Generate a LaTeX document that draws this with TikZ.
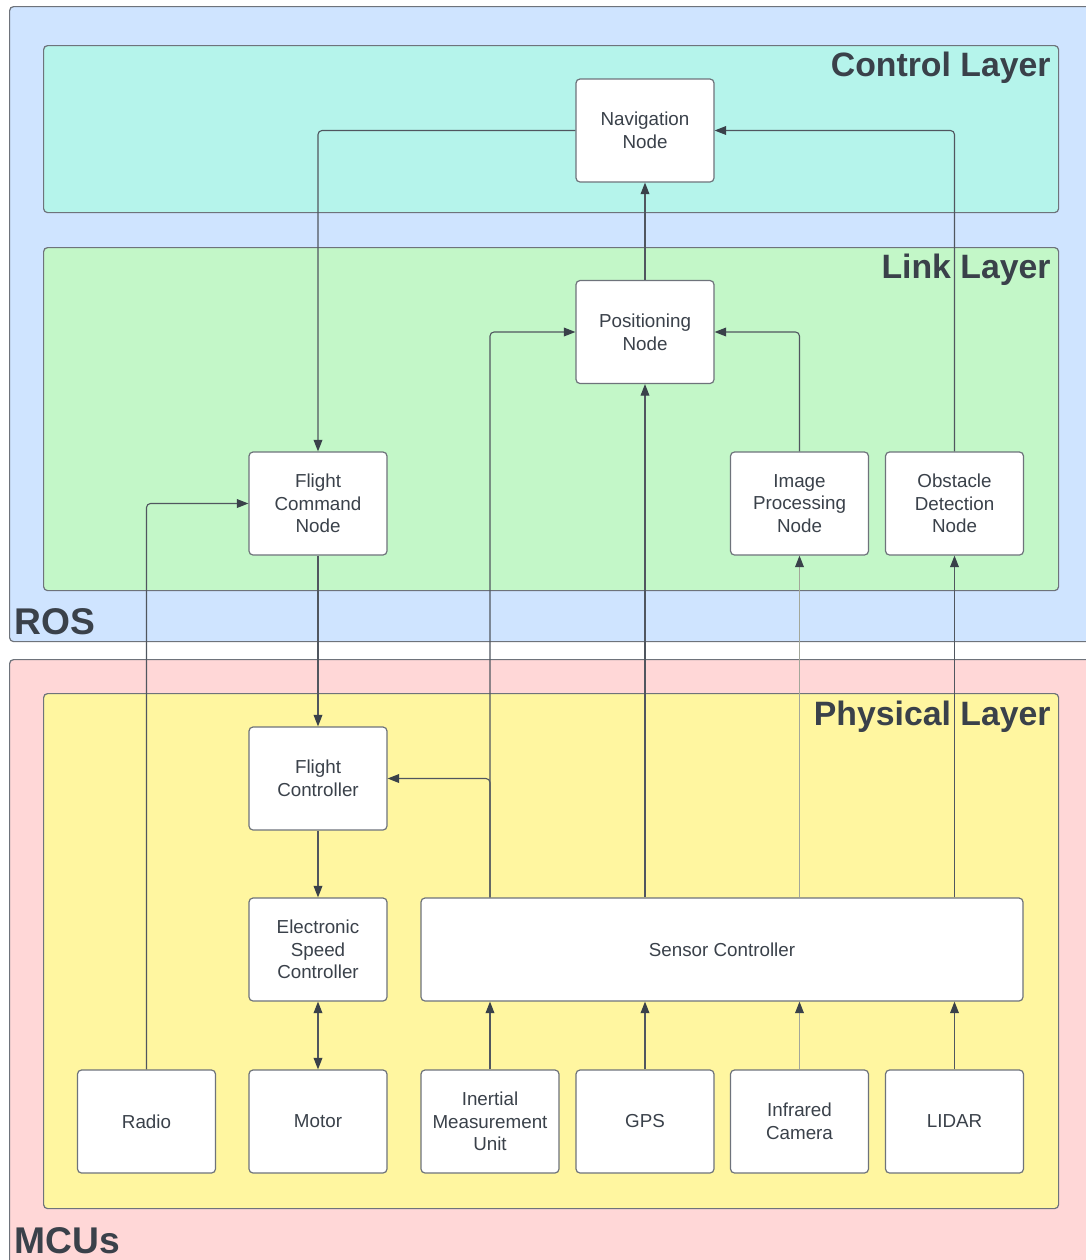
\documentclass[tikz,border=0pt]{standalone}
\usepackage{fontspec}
\setmainfont{Liberation Sans}
\usetikzlibrary{arrows.meta,positioning,calc}
\definecolor{RosBlue}{HTML}{CFE4FF}
\definecolor{CtrlTeal}{HTML}{B5F4EB}
\definecolor{LinkGreen}{HTML}{C3F7C8}
\definecolor{McuPink}{HTML}{FFD7D7}
\definecolor{PhysYellow}{HTML}{FFF6A0}
\definecolor{InkGrey}{HTML}{3A414A}
\definecolor{EdgeGrey}{HTML}{6E737B}
\definecolor{WireGrey}{HTML}{50565F}
\definecolor{PaleWire}{HTML}{A3A79A}

\tikzset{
  group/.style={draw=EdgeGrey,line width=0.6pt,rounded corners=2pt,
    inner sep=0pt,anchor=north west},
  block/.style={draw=EdgeGrey,fill=white,line width=0.6pt,rounded corners=2pt,
    minimum width=69pt,minimum height=51.5pt,inner sep=0pt,align=center,
    text=InkGrey,font=\fontsize{9.4}{11.3}\selectfont},
  layertitle/.style={text=InkGrey,inner sep=0pt,anchor=base east,
    font=\fontsize{16.9}{20}\selectfont\bfseries},
  domaintitle/.style={text=InkGrey,inner sep=0pt,anchor=base west,
    font=\fontsize{18.6}{20}\selectfont\bfseries},
  tip/.style={Triangle[length=5.8pt,width=4.4pt,color=InkGrey]},
  conn/.style={draw=WireGrey,line width=0.55pt,rounded corners=2pt,-{Triangle[length=5.8pt,width=4.4pt,color=InkGrey]}},
}

\begin{document}
\begin{tikzpicture}[x=0.5pt,y=-0.5pt]
  \useasboundingbox (0,0) rectangle (1086,1260);

  % domains and layers
  \node[group,fill=RosBlue,minimum width=546pt,minimum height=317.5pt] (ros) at (9,6) {};
  \node[group,fill=McuPink,minimum width=546pt,minimum height=310pt] (mcu) at (9,659) {};
  \node[group,fill=CtrlTeal,minimum width=507.5pt,minimum height=83.5pt] (ctrl) at (43,45) {};
  \node[group,fill=LinkGreen,minimum width=507.5pt,minimum height=171.5pt] (link) at (43,247) {};
  \node[group,fill=PhysYellow,minimum width=507.5pt,minimum height=257.5pt] (phys) at (43,693) {};

  \node[domaintitle] (rostitle) at (14,634) {ROS};
  \node[domaintitle] (mcutitle) at (14,1253) {MCUs};
  \node[layertitle] (ctrltitle) at (1051,76) {Control Layer};
  \node[layertitle] (linktitle) at (1051,278) {Link Layer};
  \node[layertitle] (phystitle) at (1051,725) {Physical Layer};

  % ROS nodes
  \node[block] (nav) at (645,130.5) {Navigation\\Node};
  \node[block] (pos) at (645,332) {Positioning\\Node};
  \node[block] (fcn) at (318,503.5) {Flight\\Command\\Node};
  \node[block] (img) at (799.5,503.5) {Image\\Processing\\Node};
  \node[block] (obs) at (954.5,503.5) {Obstacle\\Detection\\Node};

  % MCU nodes
  \node[block] (fc) at (318,778.5) {Flight\\Controller};
  \node[block] (esc) at (318,949.5) {Electronic\\Speed\\Controller};
  \node[block,minimum width=301pt] (sc) at (722,949.5) {Sensor Controller};
  \node[block] (radio) at (146.5,1121.5) {Radio};
  \node[block] (motor) at (318,1121.5) {Motor};
  \node[block] (imu) at (490,1121.5) {Inertial\\Measurement\\Unit};
  \node[block] (gps) at (645,1121.5) {GPS};
  \node[block] (ir) at (799.5,1121.5) {Infrared\\Camera};
  \node[block] (lidar) at (954.5,1121.5) {LIDAR};

  % connectors
  \draw[conn] (nav.west) -| (fcn.north);
  \draw[conn] (obs.north) |- (nav.east);
  \draw[conn] (pos.north) -- (nav.south);
  \draw[conn] (img.north) |- (pos.east);
  \draw[conn] (sc.north -| imu.north) |- (pos.west);
  \draw[conn] (sc.north -| imu.north) |- (fc.east);
  \draw[conn] (sc.north -| pos.south) -- (pos.south);
  \draw[conn,draw=PaleWire] (sc.north -| img.south) -- (img.south);
  \draw[conn] (sc.north -| obs.south) -- (obs.south);
  \draw[conn] (radio.north) |- (fcn.west);
  \draw[conn] (fcn.south) -- (fc.north);
  \draw[conn] (fc.south) -- (esc.north);
  \draw[conn,{Triangle[length=5.8pt,width=4.4pt,color=InkGrey]}-{Triangle[length=5.8pt,width=4.4pt,color=InkGrey]}]
    (esc.south) -- (motor.north);
  \draw[conn] (imu.north) -- (imu.north |- sc.south);
  \draw[conn] (gps.north) -- (gps.north |- sc.south);
  \draw[conn,draw=PaleWire] (ir.north) -- (ir.north |- sc.south);
  \draw[conn] (lidar.north) -- (lidar.north |- sc.south);
\end{tikzpicture}
\end{document}
